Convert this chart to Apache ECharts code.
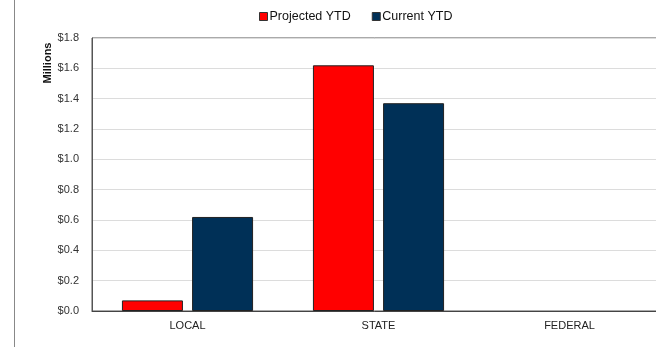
<!DOCTYPE html>
<html>
<head>
<meta charset="utf-8">
<script src="https://cdn.jsdelivr.net/npm/echarts@6/dist/echarts.min.js"></script>
<style>
  html, body { margin: 0; padding: 0; background: #fff; }
  #chart { width: 656px; height: 347px; }
</style>
</head>
<body>
<div id="chart"></div>
<script>
// Revenue by source, in millions of dollars
const categories = ['LOCAL', 'STATE', 'FEDERAL'];
const projectedYTD = [0.07, 1.62, 0];
const currentYTD = [0.62, 1.37, 0];
const seriesNames = ['Projected YTD', 'Current YTD'];
const axisMin = 0, axisMax = 1.8, axisStep = 0.2;

const chart = echarts.init(document.getElementById('chart'));
const font = 'Arial, "Liberation Sans", sans-serif';

// Zero-valued bars get no outline so nothing is drawn for them
const toBarData = values => values.map(v => ({
  value: v,
  itemStyle: { borderWidth: v === 0 ? 0 : 1 }
}));

chart.setOption({
  animation: false,
  textStyle: { fontFamily: font },
  color: ['#ff0000', '#003057'],
  legend: {
    left: 259,
    top: 10,
    padding: 0,
    itemWidth: 8,
    itemHeight: 8,
    itemGap: 21,
    icon: 'rect',
    textStyle: { fontSize: 12.5, color: '#111', fontFamily: font, padding: [0, 0, 0, -3] },
    itemStyle: { borderColor: '#333', borderWidth: 1 },
    data: seriesNames
  },
  grid: {
    left: 92,
    width: 573,
    top: 38,
    bottom: 36,
    outerBoundsMode: 'none',
    containLabel: false,
    show: true,
    borderColor: '#555',
    borderWidth: 1
  },
  xAxis: {
    type: 'category',
    data: categories,
    axisLine: { lineStyle: { color: '#444', width: 1 } },
    axisTick: { show: false },
    axisLabel: { fontSize: 11, color: '#222', margin: 9, fontFamily: font }
  },
  yAxis: {
    type: 'value',
    min: axisMin,
    max: axisMax,
    interval: axisStep,
    axisLine: { show: true, lineStyle: { color: '#555' } },
    axisTick: { show: false },
    splitLine: { lineStyle: { color: '#dcdcdc', width: 1 } },
    axisLabel: {
      fontSize: 11,
      color: '#333',
      margin: 13,
      fontFamily: font,
      formatter: v => '$' + v.toFixed(1)
    }
  },
  graphic: [
    {
      type: 'line',
      shape: { x1: 14.5, y1: 0, x2: 14.5, y2: 347 },
      style: { stroke: '#888', lineWidth: 1 }
    },
    {
      type: 'text',
      x: 48,
      y: 63,
      rotation: Math.PI / 2,
      style: {
        text: 'Millions',
        font: 'bold 11px ' + font,
        fill: '#111',
        textAlign: 'center',
        textVerticalAlign: 'middle'
      }
    }
  ],
  series: [
    {
      name: seriesNames[0],
      type: 'bar',
      data: toBarData(projectedYTD),
      barWidth: 61,
      barGap: '15%',
      itemStyle: { borderColor: '#222', borderWidth: 1 }
    },
    {
      name: seriesNames[1],
      type: 'bar',
      data: toBarData(currentYTD),
      barWidth: 61,
      barGap: '15%',
      itemStyle: { borderColor: '#222', borderWidth: 1 }
    }
  ]
});
</script>
</body>
</html>
